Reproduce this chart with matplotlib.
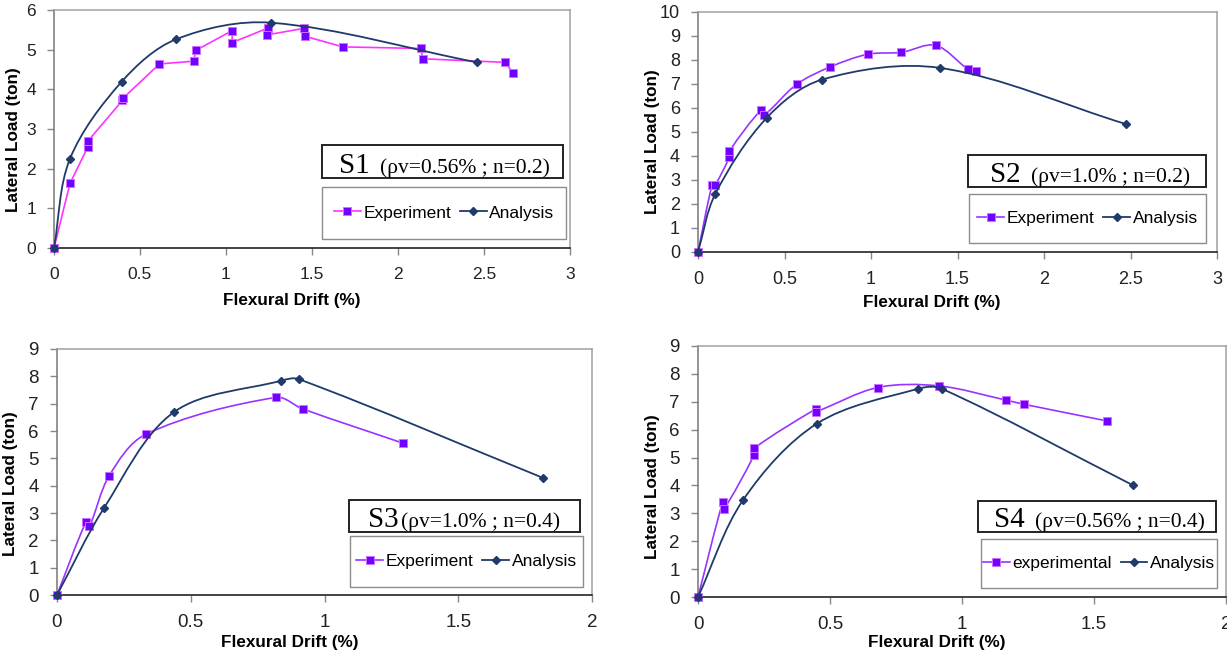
import numpy as np
import matplotlib
matplotlib.use('Agg')
import matplotlib.pyplot as plt
from matplotlib.path import Path
from matplotlib.patches import PathPatch, Rectangle
from matplotlib.lines import Line2D

W, H = 1227, 655

# ---- data ----
# S1
s1_exp_drift = [0, 0.093, 0.196, 0.196, 0.398, 0.40, 0.613, 0.813, 0.824, 1.036, 1.036,
                1.247, 1.236, 1.456, 1.458, 1.68, 2.133, 2.144, 2.624, 2.667]
s1_exp_load = [0, 1.63, 2.54, 2.69, 3.72, 3.77, 4.64, 4.71, 4.98, 5.48, 5.18,
               5.55, 5.37, 5.54, 5.34, 5.07, 5.03, 4.77, 4.68, 4.42]
s1_ana_drift = [0, 0.093, 0.393, 0.709, 1.26, 2.46]
s1_ana_load = [0, 2.25, 4.19, 5.26, 5.68, 4.68]

# S2
s2_exp_drift = [0, 0.082, 0.100, 0.18, 0.18, 0.366, 0.384, 0.571, 0.764, 0.982,
                1.176, 1.374, 1.562, 1.606]
s2_exp_load = [0, 2.81, 2.81, 3.94, 4.19, 5.93, 5.72, 6.99, 7.71, 8.24,
               8.32, 8.61, 7.61, 7.53]
s2_ana_drift = [0, 0.10, 0.396, 0.716, 1.40, 2.474]
s2_ana_load = [0, 2.42, 5.58, 7.18, 7.67, 5.33]

# S3
s3_exp_drift = [0, 0.108, 0.121, 0.195, 0.332, 0.819, 0.918, 1.295]
s3_exp_load = [0, 2.66, 2.51, 4.36, 5.88, 7.23, 6.81, 5.55]
s3_ana_drift = [0, 0.175, 0.437, 0.838, 0.903, 1.818]
s3_ana_load = [0, 3.17, 6.69, 7.84, 7.90, 4.28]

# S4
s4_exp_drift = [0, 0.094, 0.098, 0.213, 0.214, 0.446, 0.448, 0.680, 0.912,
                1.167, 1.235, 1.551]
s4_exp_load = [0, 3.42, 3.15, 5.10, 5.34, 6.74, 6.65, 7.51, 7.57,
               7.06, 6.91, 6.31]
s4_ana_drift = [0, 0.171, 0.451, 0.835, 0.923, 1.647]
s4_ana_load = [0, 3.48, 6.22, 7.47, 7.47, 4.01]

titles = ['S1', 'S2', 'S3', 'S4']
notes = ['(ρv=0.56% ; n=0.2)', '(ρv=1.0% ; n=0.2)',
         '(ρv=1.0% ; n=0.4)', '(ρv=0.56% ; n=0.4)']
exp_names = ['Experiment', 'Experiment', 'Experiment', 'experimental']
ana_name = 'Analysis'

drift_ticks_3 = [0, 0.5, 1, 1.5, 2, 2.5, 3]
drift_labels_3 = ['0', '0.5', '1', '1.5', '2', '2.5', '3']
drift_ticks_2 = [0, 0.5, 1, 1.5, 2]
drift_labels_2 = ['0', '0.5', '1', '1.5', '2']
load_ticks_6 = [0, 1, 2, 3, 4, 5, 6]
load_ticks_10 = [0, 1, 2, 3, 4, 5, 6, 7, 8, 9, 10]
load_ticks_9 = [0, 1, 2, 3, 4, 5, 6, 7, 8, 9]

xlabel = 'Flexural Drift (%)'
ylabel = 'Lateral Load (ton)'


def fx(px):
    return px / W


def fy(py):
    return 1 - py / H


def smooth_path(x, y, sx, sy):
    # smoothed line like excel: bezier through every point, control arms
    # scaled by neighbouring segment lengths (measured in pixels)
    pts = np.column_stack([np.asarray(x, float) * sx, np.asarray(y, float) * sy])
    n = len(pts)
    seg = [np.hypot(*(pts[k + 1] - pts[k])) for k in range(n - 1)]
    out_c = []
    in_c = []
    for k in range(n):
        prev = pts[k - 1] if k > 0 else pts[k]
        nxt = pts[k + 1] if k < n - 1 else pts[k]
        d = nxt - prev
        l_in = seg[k - 1] if k > 0 else 0.0
        l_out = seg[k] if k < n - 1 else 0.0
        tot = l_in + l_out if (l_in + l_out) > 0 else 1.0
        out_c.append(pts[k] + d * (l_out / tot) / 3)
        in_c.append(pts[k] - d * (l_in / tot) / 3)
    verts = [pts[0]]
    codes = [Path.MOVETO]
    for k in range(n - 1):
        verts += [out_c[k], in_c[k + 1], pts[k + 1]]
        codes += [Path.CURVE4] * 3
    verts = np.array(verts) / np.array([sx, sy])
    return Path(verts, codes)


# layout of each panel in pixels: axes (L, R, T, B), title box, legend box
panels = [
    dict(exp=(s1_exp_drift, s1_exp_load), ana=(s1_ana_drift, s1_ana_load),
         ax=(54, 570, 10, 248), xt=(drift_ticks_3, drift_labels_3), yt=load_ticks_6,
         tbox=(322, 563, 145, 178), s_x=339, n_x=380, lbox=(322, 566, 187, 239),
         ylab=(14, 140), xlab=(292, 300), exp_col='#FF33FF', exp_smooth=False, fs=12.5),
    dict(exp=(s2_exp_drift, s2_exp_load), ana=(s2_ana_drift, s2_ana_load),
         ax=(698, 1217, 12, 252), xt=(drift_ticks_3, drift_labels_3), yt=load_ticks_10,
         tbox=(968, 1206, 155, 187), s_x=990, n_x=1031, lbox=(969, 1206, 194, 243),
         ylab=(653, 142), xlab=(932, 302), exp_col='#9933FF', exp_smooth=True, fs=13),
    dict(exp=(s3_exp_drift, s3_exp_load), ana=(s3_ana_drift, s3_ana_load),
         ax=(57, 592, 349, 595), xt=(drift_ticks_2, drift_labels_2), yt=load_ticks_9,
         tbox=(349, 580, 500, 532), s_x=368, n_x=401, lbox=(350, 583, 536, 587),
         ylab=(11, 484), xlab=(290, 643), exp_col='#9933FF', exp_smooth=True, fs=13.5),
    dict(exp=(s4_exp_drift, s4_exp_load), ana=(s4_ana_drift, s4_ana_load),
         ax=(698, 1226, 346, 597), xt=(drift_ticks_2, drift_labels_2), yt=load_ticks_9,
         tbox=(978, 1216, 501, 532), s_x=994, n_x=1035, lbox=(981, 1217, 539, 588),
         ylab=(652, 487), xlab=(937, 643), exp_col='#9933FF', exp_smooth=True, fs=13.5),
]

ana_col = '#1F3A6B'
sq_face = '#7000FF'
sq_edge = '#D070FF'

fig = plt.figure(figsize=(W / 100, H / 100), dpi=100)
fig.patch.set_facecolor('white')

for i, p in enumerate(panels):
    L, R, T, B = p['ax']
    ax = fig.add_axes([fx(L), fy(B), (R - L) / W, (B - T) / H])
    ex, ey = p['exp']
    axx, axy = p['ana']
    xt, xl = p['xt']
    # pixels per data unit, used for the smoothing arms
    sx = (R - L) / (xt[-1] - xt[0])
    sy = (B - T) / (p['yt'][-1] - p['yt'][0])

    # experiment curve
    if p['exp_smooth']:
        ax.add_patch(PathPatch(smooth_path(ex, ey, sx, sy), fill=False,
                               edgecolor=p['exp_col'], lw=1.2, zorder=3))
    else:
        ax.plot(ex, ey, color=p['exp_col'], lw=1.2, zorder=3)
    ax.plot(ex, ey, ls='none', marker='s', ms=5.8, mfc=sq_face, mec=sq_edge, mew=0.7,
            zorder=4, clip_on=False)

    # analysis curve
    ax.add_patch(PathPatch(smooth_path(axx, axy, sx, sy), fill=False, edgecolor=ana_col,
                           lw=1.3, zorder=5))
    ax.plot(axx, axy, ls='none', marker='D', ms=4, mfc=ana_col, mec=ana_col,
            zorder=6, clip_on=False)

    ax.set_xlim(xt[0], xt[-1])
    ax.set_ylim(p['yt'][0], p['yt'][-1])
    ax.set_xticks(xt)
    ax.set_xticklabels(xl)
    ax.set_yticks(p['yt'])
    ax.set_yticklabels([str(v) for v in p['yt']])
    ax.tick_params(axis='both', direction='out', length=5, width=1, colors='#888888',
                   labelcolor='#222222', labelsize=p['fs'])
    ax.tick_params(axis='x', pad=9)
    ax.tick_params(axis='y', pad=8)
    for lab in ax.get_xticklabels() + ax.get_yticklabels():
        lab.set_fontfamily('Liberation Sans')
    ax.spines['bottom'].set_color('#111111')
    ax.spines['left'].set_color('#777777')
    ax.spines['top'].set_color('#A0A0A0')
    ax.spines['right'].set_color('#A0A0A0')
    for s in ax.spines.values():
        s.set_linewidth(1.1)

    # axis titles
    fig.text(fx(p['ylab'][0]), fy(p['ylab'][1]), ylabel, rotation=90, ha='center',
             va='center', fontsize=12.3, fontweight='bold', family='Liberation Sans')
    fig.text(fx(p['xlab'][0]), fy(p['xlab'][1]), xlabel, ha='center', va='center',
             fontsize=12.3, fontweight='bold', family='Liberation Sans')

    # specimen title box
    bl, br, bt, bb = p['tbox']
    fig.add_artist(Rectangle((fx(bl), fy(bb)), (br - bl) / W, (bb - bt) / H,
                             transform=fig.transFigure, fill=True, facecolor='white',
                             edgecolor='#222222', lw=1.4, zorder=10))
    fig.text(fx(p['s_x']), fy(bb - 5), titles[i], ha='left', va='baseline',
             fontsize=21, family='Liberation Serif', zorder=11)
    fig.text(fx(p['n_x']), fy(bb - 5), notes[i], ha='left', va='baseline',
             fontsize=15.5, family='Liberation Serif', zorder=11)

    # legend box
    gl, gr, gt, gb = p['lbox']
    fig.add_artist(Rectangle((fx(gl), fy(gb)), (gr - gl) / W, (gb - gt) / H,
                             transform=fig.transFigure, fill=True, facecolor='white',
                             edgecolor='#8C8C8C', lw=1.0, zorder=10))
    handles = [Line2D([], [], color=p['exp_col'], lw=1.2, marker='s', ms=5.8,
                      mfc=sq_face, mec=sq_edge, mew=0.7),
               Line2D([], [], color=ana_col, lw=1.3, marker='D', ms=4,
                      mfc=ana_col, mec=ana_col)]
    leg = fig.legend(handles, [exp_names[i], ana_name], loc='center', ncol=2,
                     bbox_to_anchor=(fx(gl), fy(gb), (gr - gl) / W, (gb - gt) / H),
                     bbox_transform=fig.transFigure, frameon=False, borderpad=0,
                     handlelength=1.55, handletextpad=0.15, columnspacing=0.5,
                     prop={'family': 'Liberation Sans', 'size': 12.5})
    leg.set_zorder(12)

fig.savefig('out.png', dpi=100, facecolor='white')
